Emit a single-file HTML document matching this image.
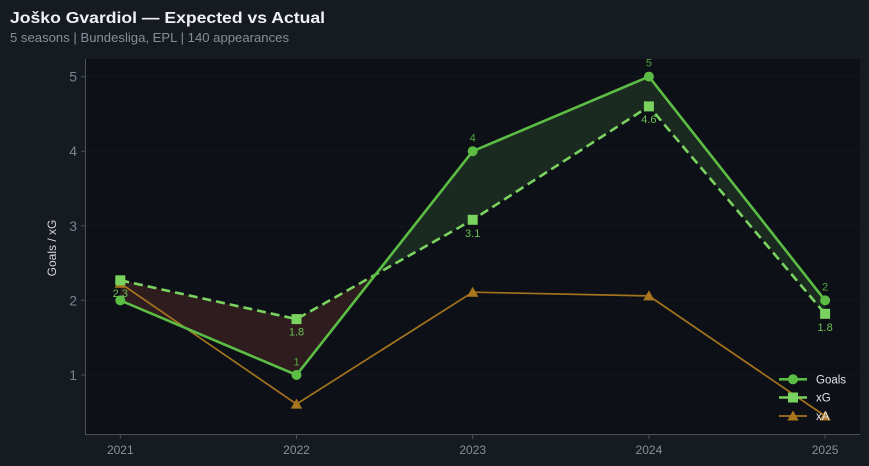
<!DOCTYPE html>
<html><head><meta charset="utf-8"><style>
html,body{margin:0;padding:0;background:#161a21;}
svg{display:block;font-family:"Liberation Sans",sans-serif;}
</style></head><body>
<svg width="869" height="466" viewBox="0 0 869 466" xmlns="http://www.w3.org/2000/svg">
<rect width="869" height="466" fill="#161a21"/>
<text x="10" y="23" font-size="16" font-weight="bold" fill="#eef0f4" textLength="315" lengthAdjust="spacingAndGlyphs">Joško Gvardiol — Expected vs Actual</text>
<text x="10" y="42" font-size="12.5" fill="#888d97" textLength="279" lengthAdjust="spacingAndGlyphs">5 seasons | Bundesliga, EPL | 140 appearances</text>
<rect x="85.5" y="59" width="774.5" height="375" fill="#0d1017"/>
<g stroke="#12161d" stroke-width="1">
<line x1="86" y1="76.6" x2="860" y2="76.6"/>
<line x1="86" y1="151.2" x2="860" y2="151.2"/>
<line x1="86" y1="225.8" x2="860" y2="225.8"/>
<line x1="86" y1="300.4" x2="860" y2="300.4"/>
<line x1="86" y1="375" x2="860" y2="375"/>
</g>
<g stroke="#4a4f5a" stroke-width="1">
<line x1="85.5" y1="59" x2="85.5" y2="434.5"/>
<line x1="85" y1="434.5" x2="860" y2="434.5"/>
<line x1="81" y1="76.6" x2="85.5" y2="76.6"/>
<line x1="81" y1="151.2" x2="85.5" y2="151.2"/>
<line x1="81" y1="225.8" x2="85.5" y2="225.8"/>
<line x1="81" y1="300.4" x2="85.5" y2="300.4"/>
<line x1="81" y1="375" x2="85.5" y2="375"/>
<line x1="120.3" y1="434.5" x2="120.3" y2="439"/>
<line x1="296.5" y1="434.5" x2="296.5" y2="439"/>
<line x1="472.7" y1="434.5" x2="472.7" y2="439"/>
<line x1="648.9" y1="434.5" x2="648.9" y2="439"/>
<line x1="825.1" y1="434.5" x2="825.1" y2="439"/>
</g>
<g font-size="14" fill="#7d8290" text-anchor="end">
<text x="77" y="81.6">5</text>
<text x="77" y="156.2">4</text>
<text x="77" y="230.8">3</text>
<text x="77" y="305.4">2</text>
<text x="77" y="380">1</text>
</g>
<g font-size="12" fill="#8a8f99" text-anchor="middle">
<text x="120.3" y="454">2021</text>
<text x="296.5" y="454">2022</text>
<text x="472.7" y="454">2023</text>
<text x="648.9" y="454">2024</text>
<text x="825.1" y="454">2025</text>
</g>
<text transform="translate(56,248) rotate(-90)" font-size="12" fill="#d4d7dc" text-anchor="middle">Goals / xG</text>
<!-- fills -->
<polygon points="120.3,300.4 296.5,375 375.6,274.5 296.5,319.1 120.3,280.3" fill="#2e1c1f"/>
<polygon points="375.6,274.5 472.7,151.2 648.9,76.6 825.1,300.4 825.1,313.8 648.9,106.4 472.7,219.8" fill="#1b2a20"/>
<!-- xA -->
<polyline points="120.3,283.2 296.5,404.1 472.7,292.2 648.9,295.9 825.1,416" fill="none" stroke="#a3731d" stroke-width="1.7"/>
<g fill="#a8771d">
<polygon points="120.3,277.7 126,287.7 114.6,287.7"/>
<polygon points="296.5,398.6 302.2,408.6 290.8,408.6"/>
<polygon points="472.7,286.7 478.4,296.7 467,296.7"/>
<polygon points="648.9,290.4 654.6,300.4 643.2,300.4"/>
<polygon points="825.1,410.5 830.8,420.5 819.4,420.5"/>
</g>
<!-- xG -->
<polyline points="120.3,280.3 296.5,319.1 472.7,219.8 648.9,106.4 825.1,313.8" fill="none" stroke="#7ad35f" stroke-width="2.6" stroke-dasharray="9,5"/>
<g fill="#7ad35f">
<rect x="115.3" y="275.3" width="10" height="10"/>
<rect x="291.5" y="314.1" width="10" height="10"/>
<rect x="467.7" y="214.8" width="10" height="10"/>
<rect x="643.9" y="101.4" width="10" height="10"/>
<rect x="820.1" y="308.8" width="10" height="10"/>
</g>
<!-- Goals -->
<polyline points="120.3,300.4 296.5,375 472.7,151.2 648.9,76.6 825.1,300.4" fill="none" stroke="#5cbd44" stroke-width="2.6"/>
<g fill="#5cbd44">
<circle cx="120.3" cy="300.4" r="5"/>
<circle cx="296.5" cy="375" r="5"/>
<circle cx="472.7" cy="151.2" r="5"/>
<circle cx="648.9" cy="76.6" r="5"/>
<circle cx="825.1" cy="300.4" r="5"/>
</g>
<!-- labels -->
<g font-size="11" fill="#52a83e" text-anchor="middle">
<text x="296.5" y="365.5">1</text>
<text x="472.7" y="141.5">4</text>
<text x="648.9" y="66.5">5</text>
<text x="825.1" y="290.5">2</text>
</g>
<g font-size="11" fill="#6cbf54" text-anchor="middle">
<text x="120.3" y="297">2.3</text>
<text x="296.5" y="335.5">1.8</text>
<text x="472.7" y="237">3.1</text>
<text x="648.9" y="123">4.6</text>
<text x="825.1" y="331">1.8</text>
</g>
<!-- legend -->
<line x1="779" y1="379.3" x2="807" y2="379.3" stroke="#5cbd44" stroke-width="2.6"/>
<circle cx="793" cy="379.3" r="5" fill="#5cbd44"/>
<line x1="779" y1="397.5" x2="807" y2="397.5" stroke="#7ad35f" stroke-width="2.6"/>
<rect x="788" y="392.5" width="10" height="10" fill="#7ad35f"/>
<line x1="779" y1="416" x2="807" y2="416" stroke="#a3731d" stroke-width="1.7"/>
<polygon points="793,410.5 798.7,420.5 787.3,420.5" fill="#a8771d"/>
<g font-size="11.5" fill="#e2e4e8">
<text x="816" y="383.5">Goals</text>
<text x="816" y="401.5">xG</text>
<text x="816" y="420">xA</text>
</g>
</svg>
</body></html>
